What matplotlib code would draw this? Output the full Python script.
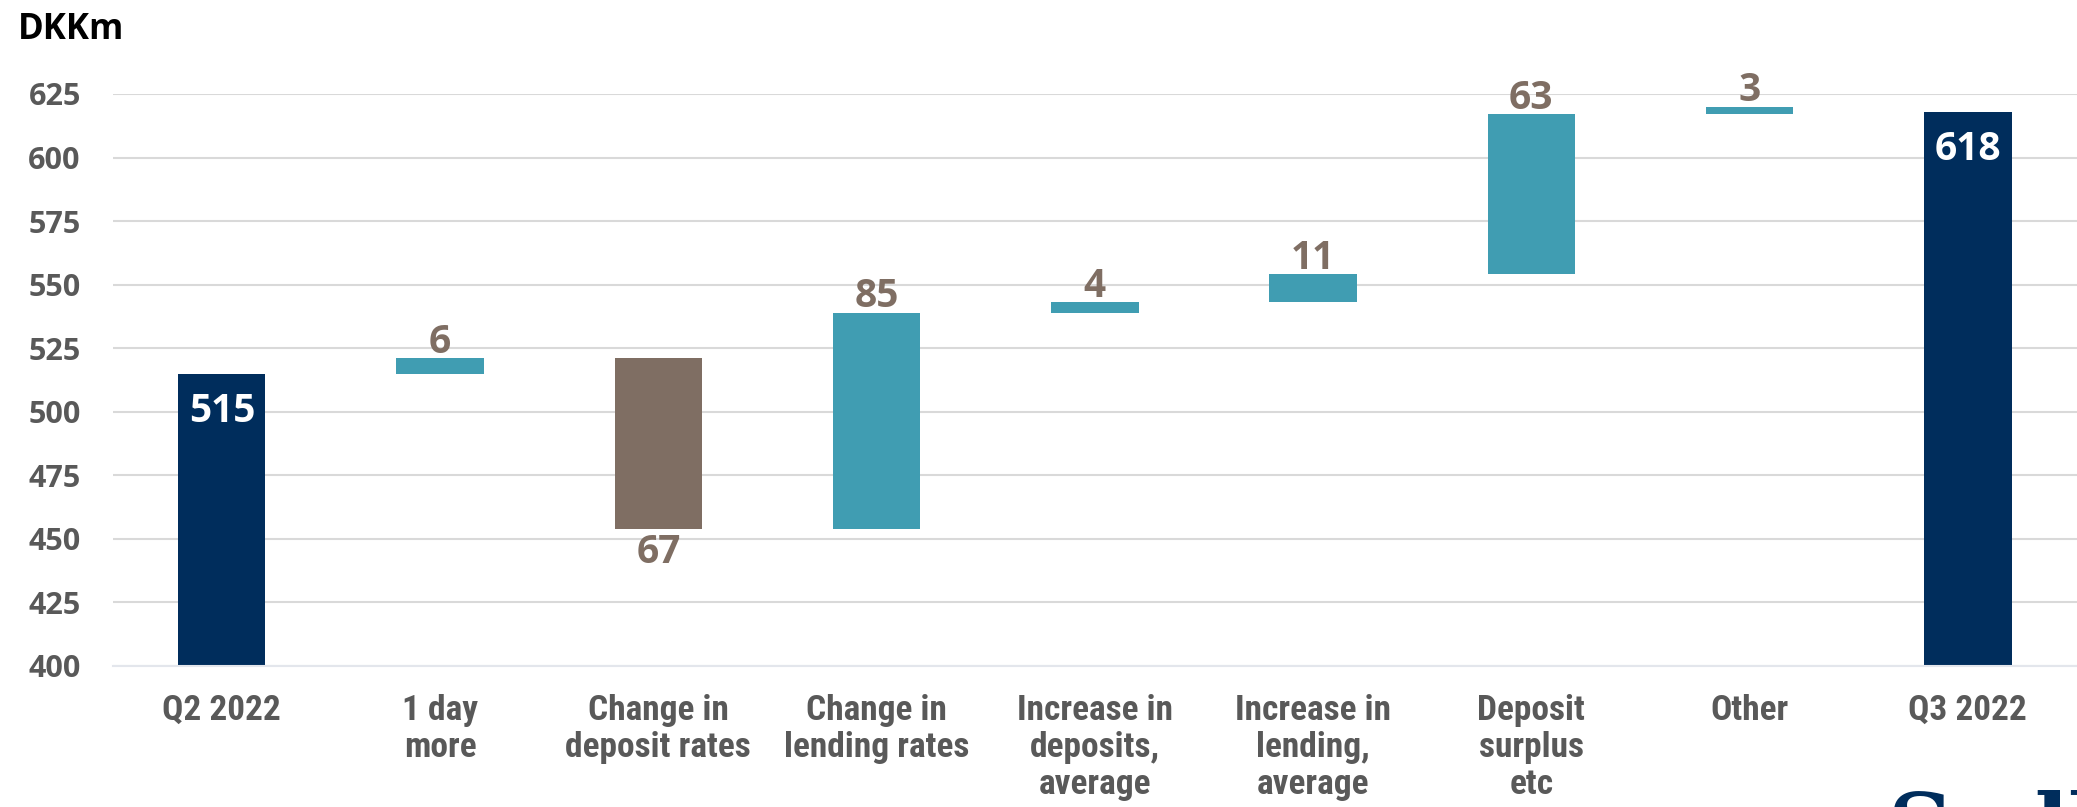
import matplotlib
matplotlib.use("Agg")
import matplotlib.pyplot as plt
from matplotlib import font_manager
import numpy as np

# ---- data ----
categories = ["Q2 2022", "1 day\nmore", "Change in\ndeposit rates", "Change in\nlending rates",
              "Increase in\ndeposits,\naverage", "Increase in\nlending,\naverage",
              "Deposit\nsurplus\netc", "Other", "Q3 2022"]
start_value = 515
deltas = [6, -67, 85, 4, 11, 63, 3]
end_value = 618
yticks = [400, 425, 450, 475, 500, 525, 550, 575, 600, 625]

NAVY = "#002D5C"
TEAL = "#409DB2"
TAUPE = "#7F6E63"
GRID = "#D9D9D9"
TICK = "#595959"

avail = {f.name for f in font_manager.fontManager.ttflist}
def pick(cands):
    for c in cands:
        if c in avail:
            return c
    return "DejaVu Sans"
NARROW = pick(["Liberation Sans Narrow", "DejaVu Sans Condensed", "Roboto Condensed", "Open Sans Condensed", "Liberation Sans"])
NUMF = pick(["Open Sans", "Noto Sans", "DejaVu Sans"])

W, H = 2077, 807
AX_BOTTOM_PX = 666.0
AX_TOP_PX = 94.0
fig = plt.figure(figsize=(W / 100, H / 100), dpi=100)
ax = fig.add_axes([112.7 / W, (H - AX_BOTTOM_PX) / H, 1 - 112.7 / W, (AX_BOTTOM_PX - AX_TOP_PX) / H])

x = np.arange(len(categories))
bw = 0.40

# totals
ax.bar(x[0], start_value, width=bw, color=NAVY, zorder=2)
ax.bar(x[-1], end_value, width=bw, color=NAVY, zorder=2)

# floating changes
level = start_value
tops, bots = [], []
for i, d in enumerate(deltas):
    lo, hi = (level, level + d) if d >= 0 else (level + d, level)
    ax.bar(x[i + 1], hi - lo, bottom=lo, width=bw, color=TEAL if d >= 0 else TAUPE, zorder=2)
    tops.append(hi); bots.append(lo)
    level += d

# labels
for xi, v in ((x[0], start_value), (x[-1], end_value)):
    ax.annotate(f"{v}", (xi, v), xytext=(0, -13), textcoords="offset points",
                ha="center", va="top", color="white", fontsize=28, fontweight="bold",
                family=NUMF, zorder=4)
for i, d in enumerate(deltas):
    if d >= 0:
        ax.annotate(f"{abs(d)}", (x[i + 1], tops[i]), xytext=(0, 4), textcoords="offset points",
                    ha="center", va="baseline", color=TAUPE, fontsize=28, fontweight="bold",
                    family=NUMF, zorder=4, annotation_clip=False)
    else:
        ax.annotate(f"{abs(d)}", (x[i + 1], bots[i]), xytext=(0, -3), textcoords="offset points",
                    ha="center", va="top", color=TAUPE, fontsize=28, fontweight="bold",
                    family=NUMF, zorder=4, annotation_clip=False)

ax.set_xlim(-0.5, 8.5)
ax.set_ylim(400, 625)
ax.set_yticks(yticks)
ax.set_yticklabels([str(t) for t in yticks], fontsize=22, fontweight="bold", color=TICK, family=NUMF)
ax.set_xticks(x)
ax.set_xticklabels(categories, fontsize=25.5, fontweight="bold", color=TICK, family=NARROW,
                   linespacing=1.15, multialignment="center")
ax.tick_params(axis="y", length=0, pad=23)
ax.tick_params(axis="x", length=0, pad=20)
for s in ax.spines.values():
    s.set_visible(False)
ax.yaxis.grid(True, color=GRID, linewidth=1.5, zorder=0)
ax.set_axisbelow(True)
ax.axhline(400, color="#E3E6EC", linewidth=1.5, zorder=3, clip_on=False)

fig.text(18 / W, 1 - 12 / H, "DKKm", ha="left", va="top", fontsize=25, fontweight="bold",
         color="black", family=NUMF)

# partially visible logo at bottom right
fig.text(1888 / W, (H - 858) / H, "Sydbank", ha="left", va="baseline", fontsize=65,
         fontweight="bold", color=NAVY, family="DejaVu Serif")

fig.savefig("out.png", dpi=100, facecolor="white")
